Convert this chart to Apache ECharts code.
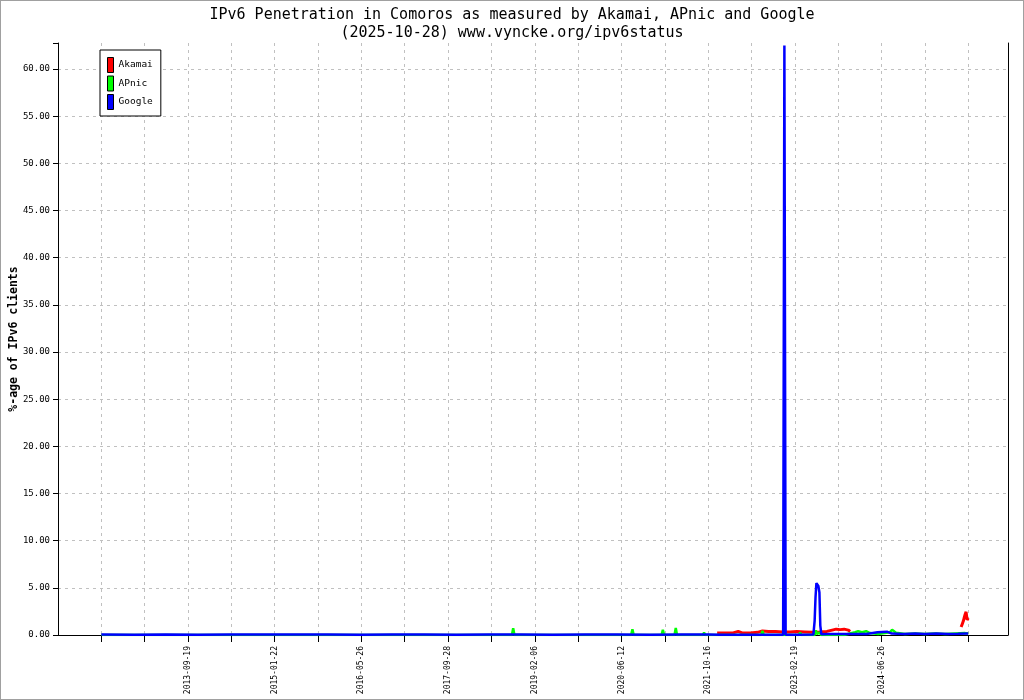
<!DOCTYPE html>
<html><head><meta charset="utf-8">
<script src="https://cdn.jsdelivr.net/npm/echarts@6/dist/echarts.min.js"></script>
<style>
html,body{margin:0;padding:0;background:#fff}
#c{width:1024px;height:700px;box-sizing:border-box;border:1px solid #a0a0a0;background:#fff}
</style></head><body><div id="c"></div>
<script>
// ---------- data ----------
const titleText = 'IPv6 Penetration in Comoros as measured by Akamai, APnic and Google';
const subtitleText = '(2025-10-28) www.vyncke.org/ipv6status';
const yAxisName = '%-age of IPv6 clients';
const seriesNames = ['Akamai', 'APnic', 'Google'];
const seriesColors = ['#ff0000', '#00ff00', '#0000ff'];

// x axis: ticks every 245 days from the axis start
const axisStart = '2011-09-15';
const tickStepDays = 245;
const axisEndDays = 5370;
const tickLabelIndex = [3, 5, 7, 9, 11, 13, 15, 17, 19];
const tickLabels = ['2013-09-19', '2015-01-22', '2016-05-26', '2017-09-28', '2019-02-06',
  '2020-06-12', '2021-10-16', '2023-02-19', '2024-06-26'];
const yMax = 62.76;
const yStep = 5;

const akamaiDates = ['2021-11-27', '2022-01-11', '2022-02-25', '2022-03-26', '2022-04-17', '2022-06-03',
  '2022-07-13', '2022-08-10', '2022-09-13', '2022-10-23', '2022-12-01', '2023-01-12', '2023-02-20',
  '2023-04-07', '2023-05-16', '2023-06-30', '2023-08-09', '2023-09-08', '2023-10-01', '2023-10-23',
  '2023-11-15', '2023-12-08', '2023-12-19', '2024-01-10',
  '2025-09-06', '2025-09-12', '2025-09-18', '2025-09-23', '2025-09-29', '2025-10-04', '2025-10-10', '2025-10-16'];
const akamaiValues = [0.2, 0.22, 0.22, 0.38, 0.22, 0.22,
  0.28, 0.42, 0.38, 0.38, 0.33, 0.33, 0.36,
  0.33, 0.28, 0.32, 0.38, 0.52, 0.62, 0.57,
  0.62, 0.52, 0.38, null,
  0.85, 1.15, 1.45, 1.8, 2.2, 2.45, 1.6, 1.8];

const apnicDates = ['2012-05-17', '2013-06-01', '2014-06-01', '2015-06-13', '2015-06-20', '2015-06-27',
  '2016-06-01', '2017-06-01', '2018-09-24', '2018-10-01', '2018-10-08', '2019-06-01', '2020-07-29',
  '2020-08-05', '2020-08-12', '2021-01-17', '2021-01-24', '2021-01-31', '2021-03-31', '2021-04-07',
  '2021-04-14', '2021-09-07', '2021-09-14', '2021-09-21', '2021-10-23', '2021-10-30', '2021-11-06',
  '2021-12-06', '2021-12-13', '2021-12-20', '2022-05-01', '2022-05-08', '2022-05-15', '2022-08-03',
  '2022-08-10', '2022-08-17', '2022-12-16', '2022-12-23', '2022-12-30', '2023-03-04', '2023-03-11',
  '2023-03-18', '2023-06-01', '2023-06-08', '2023-06-15', '2023-06-30', '2023-07-07', '2023-11-13',
  '2023-11-20', '2024-01-16', '2024-02-02', '2024-02-24', '2024-03-18',
  '2024-04-09', '2024-05-25', '2024-07-03', '2024-07-31', '2024-08-12', '2024-09-03', '2024-10-24',
  '2024-12-20', '2025-02-13', '2025-04-11', '2025-06-07', '2025-08-03', '2025-09-29', '2025-10-16'];
const apnicValues = [0, 0, 0, 0, 0.2, 0,
  0, 0, 0, 0.72, 0, 0, 0,
  0.6, 0, 0, 0.55, 0, 0, 0.75,
  0, 0, 0.25, 0, 0, 0.15, 0,
  0, 0.2, 0, 0, 0.15, 0, 0,
  0.45, 0, 0, 0.2, 0, 0, 0.25,
  0, 0, 0.5, 0.1, 0.3, 0, 0,
  0.1, 0.3, 0.4, 0.3, 0.4,
  0.2, 0.1, 0.2, 0.3, 0.55, 0.25, 0.1,
  0.15, 0.1, 0.15, 0.1, 0.15, 0.2, 0.15];

const googleDates = ['2012-05-17', '2012-11-20', '2013-05-15', '2013-11-12', '2014-05-20', '2014-11-18',
  '2015-05-19', '2015-11-17', '2016-05-17', '2016-11-15', '2017-05-16', '2017-11-14', '2018-05-15',
  '2018-11-13', '2019-05-14', '2019-11-12', '2020-05-12', '2020-11-10', '2021-05-11', '2021-10-07',
  '2021-12-13', '2022-03-15', '2022-06-09', '2022-09-13', '2022-12-05', '2022-12-12', '2022-12-19',
  '2023-03-10', '2023-05-25', '2023-06-01', '2023-06-06', '2023-06-11', '2023-06-17', '2023-06-22',
  '2023-06-28', '2023-07-03', '2023-07-09', '2023-08-20', '2023-10-12', '2024-01-10', '2024-03-20',
  '2024-05-21', '2024-07-14', '2024-08-10', '2024-10-15', '2024-12-20', '2025-02-13', '2025-04-20',
  '2025-06-25', '2025-08-20', '2025-10-16'];
const googleValues = [0.04, 0.03, 0.04, 0.03, 0.04, 0.04,
  0.05, 0.04, 0.03, 0.04, 0.04, 0.03, 0.04,
  0.04, 0.03, 0.04, 0.04, 0.03, 0.04, 0.04,
  0.03, 0.03, 0.03, 0.03, 0.03, 62.5, 0.03,
  0.03, 0.05, 1.5, 4.0, 5.5, 5.6, 5.2,
  4.5, 1.0, 0.08, 0.1, 0.1, 0.1, 0.1,
  0.3, 0.35, 0.15, 0.1, 0.15, 0.1, 0.15,
  0.1, 0.12, 0.15];

// ---------- helpers ----------
const DAY = 86400000;
const t0 = Date.parse(axisStart + 'T00:00:00Z');
function dayOffset(d) { return (Date.parse(d + 'T00:00:00Z') - t0) / DAY; }
function pairs(dates, values) { return dates.map((d, i) => [dayOffset(d), values[i] === null ? '-' : values[i]]); }

const FONT = 'DejaVu Sans Mono';
const chart = echarts.init(document.getElementById('c'), null, { renderer: 'canvas' });

const seriesData = [pairs(akamaiDates, akamaiValues), pairs(apnicDates, apnicValues), pairs(googleDates, googleValues)];
const lineWidths = [3, 2.5, 2.5];

chart.setOption({
  animation: false,
  backgroundColor: '#fff',
  title: {
    text: titleText + '\n' + subtitleText,
    left: 'center', top: 5, padding: 0,
    textStyle: { fontFamily: FONT, fontSize: 15, fontWeight: 'normal', color: '#000', lineHeight: 18 }
  },
  legend: {
    orient: 'vertical', left: 99, top: 49,
    padding: [7, 8, 6, 7],
    borderColor: '#000', borderWidth: 1, backgroundColor: '#fff',
    itemWidth: 6, itemHeight: 15, itemGap: 2.5,
    icon: 'rect',
    itemStyle: { borderColor: '#000', borderWidth: 1 },
    textStyle: { fontFamily: FONT, fontSize: 9.5, color: '#000' },
    data: seriesNames
  },
  grid: { left: 57, right: 15, top: 42, bottom: 64, containLabel: false, outerBoundsMode: 'none' },
  xAxis: {
    type: 'value', min: 0, max: axisEndDays, interval: tickStepDays,
    axisLine: { show: true, lineStyle: { color: '#000', width: 1 } },
    axisTick: { show: true, length: 7, lineStyle: { color: '#000' } },
    splitLine: { show: true, lineStyle: { color: '#c0c0c0', type: [3, 4], width: 1 } },
    axisLabel: {
      rotate: 90, margin: 11, fontFamily: FONT, fontSize: 8, color: '#000',
      showMaxLabel: false, showMinLabel: false,
      formatter: function (v) {
        if (v % tickStepDays !== 0) return '';
        const k = tickLabelIndex.indexOf(Math.round(v / tickStepDays));
        return k >= 0 ? tickLabels[k] : '';
      }
    }
  },
  yAxis: [{
    type: 'value', min: 0, max: yMax, interval: yStep,
    name: yAxisName, nameLocation: 'middle', nameGap: 38, nameMoveOverlap: false,
    nameTextStyle: { fontFamily: FONT, fontSize: 11.5, fontWeight: 'bold', color: '#000' },
    axisLine: { show: true, lineStyle: { color: '#000', width: 1 } },
    axisTick: { show: true, length: 5, lineStyle: { color: '#000' } },
    splitLine: { show: true, showMaxLine: false, lineStyle: { color: '#c0c0c0', type: [3, 4], width: 1 } },
    axisLabel: {
      margin: 8, fontFamily: FONT, fontSize: 9, color: '#000',
      formatter: function (v) { return (Math.abs(v / yStep - Math.round(v / yStep)) < 1e-9) ? v.toFixed(2) : ''; }
    }
  }, {
    type: 'value', min: 0, max: yMax, position: 'right',
    axisLine: { show: true, onZero: false, lineStyle: { color: '#000', width: 1 } },
    axisTick: { show: false }, axisLabel: { show: false }, splitLine: { show: false }
  }],
  series: seriesNames.map((name, i) => ({
    name: name, type: 'line', data: seriesData[i],
    showSymbol: false, symbol: 'none', connectNulls: false,
    color: seriesColors[i],
    itemStyle: { color: seriesColors[i] },
    lineStyle: { color: seriesColors[i], width: lineWidths[i], join: 'bevel', cap: 'butt' },
    z: 2 + i
  }))
});
</script></body></html>
